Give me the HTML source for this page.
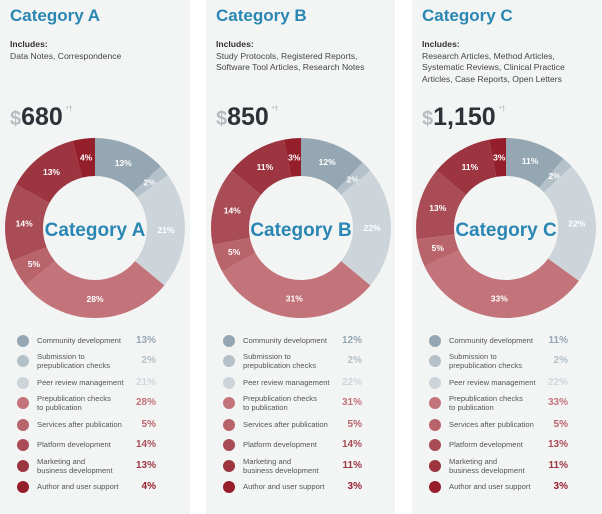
<!DOCTYPE html>
<html><head><meta charset="utf-8"><style>
body{margin:0;width:602px;height:514px;background:#fff;font-family:"Liberation Sans",sans-serif;position:relative;overflow:hidden}
.p{position:absolute;top:0;height:514px;background:#f3f5f5}
.t{position:absolute;left:10px;top:6px;font-size:17px;font-weight:bold;color:#2a86b2}
.inc{position:absolute;left:10px;top:39px;font-size:8.6px;color:#444;line-height:11.5px}
.inc b{color:#333}
.pr{position:absolute;left:10px;top:103px;font-size:25px;font-weight:bold;color:#2d3238}
.pr .d{color:#b8bcc0;font-size:20px;font-weight:bold}
.pr sup{color:#aaa;font-size:7px;font-weight:normal;vertical-align:14px;margin-left:3px}
svg{position:absolute;left:0;top:0}
.lg{position:absolute;left:17px;width:139px;font-size:7.6px;color:#555;line-height:9px}
.lg i{position:absolute;left:0;width:12px;height:12px;border-radius:50%}
.lg span{position:absolute;left:20px;white-space:nowrap}
.lg em{position:absolute;right:0;font-style:normal;font-weight:bold;font-size:10px}
</style></head><body>
<div id="root"></div>
<script>
var cols=["#95a7b2","#b4c1c9","#cdd5db","#c3737a","#b9636b","#a94c55","#9c3540","#951e2b"];
var names=["Community development","Submission to<br>prepublication checks","Peer review management","Prepublication checks<br>to publication","Services after publication","Platform development","Marketing and<br>business development","Author and user support"];
var P=[
{x:0,w:190,cx:95,t:"Category A",inc:"Data Notes, Correspondence",pr:"680",v:[13,2,21,28,5,14,13,4]},
{x:206,w:189,cx:301,t:"Category B",inc:"Study Protocols, Registered Reports,<br>Software Tool Articles, Research Notes",pr:"850",v:[12,2,22,31,5,14,11,3]},
{x:412,w:190,cx:506,t:"Category C",inc:"Research Articles, Method Articles,<br>Systematic Reviews, Clinical Practice<br>Articles, Case Reports, Open Letters",pr:"1,150",v:[11,2,22,33,5,13,11,3]}];
var rows=[341,361,383,403,425,445,466,487];
var h="",svg='<svg width="602" height="514">';
P.forEach(function(p){
 h+='<div class="p" style="left:'+p.x+'px;width:'+p.w+'px"><div class="t">'+p.t+'</div><div class="inc"><b>Includes:</b><br>'+p.inc+'</div><div class="pr"><span class="d">$</span>'+p.pr+'<sup>*†</sup></div>';
 rows.forEach(function(y,i){
  var two=names[i].indexOf("<br>")>0;
  h+='<div class="lg" style="top:'+y+'px"><i style="top:-6px;background:'+cols[i]+'"></i><span style="top:'+(two?-9:-5)+'px">'+names[i]+'</span><em style="top:-5px;color:'+(i==2?"#d0d6db":cols[i])+'">'+p.v[i]+'%</em></div>';
 });
 h+='</div>';
 var tot=p.v.reduce(function(a,b){return a+b},0),a=0,cy=228,R=90,r=52;
 p.v.forEach(function(v,i){
  var a0=a/tot*2*Math.PI,a1=(a+v)/tot*2*Math.PI;a+=v;
  function pt(rr,an){return [p.cx+rr*Math.sin(an),cy-rr*Math.cos(an)]}
  var A=pt(R,a0),B=pt(R,a1),C=pt(r,a1),D=pt(r,a0),l=(a1-a0)>Math.PI?1:0;
  svg+='<path d="M'+A+'A'+R+','+R+' 0 '+l+' 1 '+B+'L'+C+'A'+r+','+r+' 0 '+l+' 0 '+D+'Z" fill="'+cols[i]+'"/>';
  var m=pt(71,(a0+a1)/2);
  svg+='<text x="'+m[0]+'" y="'+(m[1]+3)+'" font-size="8.5" font-weight="bold" fill="#fff" text-anchor="middle" font-family="Liberation Sans">'+v+'%</text>';
 });
 svg+='<text x="'+p.cx+'" y="236" font-size="19" font-weight="bold" fill="#2a86b2" text-anchor="middle" font-family="Liberation Sans">'+p.t+'</text>';
});
svg+='</svg>';
document.getElementById("root").innerHTML=h+svg;
</script>
</body></html>
